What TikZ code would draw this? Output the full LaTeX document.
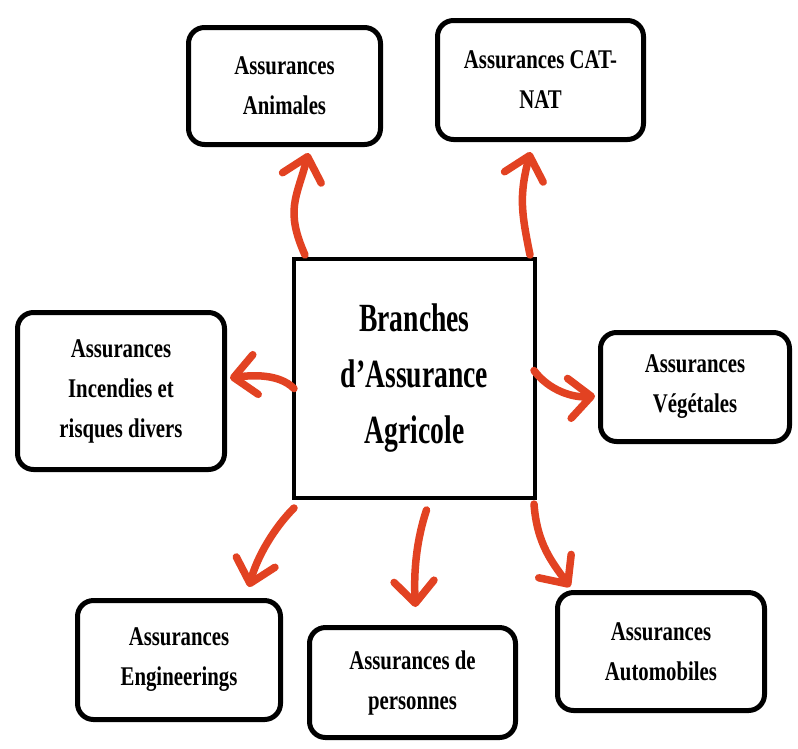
\documentclass[tikz,border=0pt]{standalone}
\usepackage{fontspec}
\setmainfont{Liberation Serif}
\newfontfamily\boxfont[FakeStretch=0.77]{Liberation Serif}
\newfontfamily\centerfont[FakeStretch=0.69]{Liberation Serif}
\usetikzlibrary{arrows.meta,calc}
\definecolor{arrowred}{RGB}{226,66,34}
\begin{document}
\begin{tikzpicture}[x=1pt,y=-1pt,
  box/.style={draw, line width=5pt, rounded corners=16pt, align=center, inner sep=0pt,
    font=\boxfont\bfseries\fontsize{27}{40}\selectfont},
  centerbox/.style={draw, line width=4pt, align=center, inner sep=0pt,
    font=\centerfont\bfseries\fontsize{40}{56}\selectfont},
  arr/.style={draw=arrowred, line width=7.5pt, line cap=round,
    -{Straight Barb[length=22pt,width=40pt,round]}}]
\fill[white] (0,0) rectangle (798,748);
\useasboundingbox (0,0) rectangle (798,748);

\node[centerbox, minimum width=241pt, minimum height=239pt] (c) at (414.5,378.5) {Branches\\d’Assurance\\Agricole};

\node[box, minimum width=192pt, minimum height=117pt] (ani) at (284.5,86) {Assurances\\Animales};
\node[box, minimum width=206pt, minimum height=119pt] (cat) at (540.5,80) {Assurances CAT-\\NAT};
\node[box, minimum width=189pt, minimum height=109pt] (veg) at (695,387) {Assurances\\Végétales};
\node[box, minimum width=207pt, minimum height=157pt] (inc) at (121,391) {Assurances\\Incendies et\\risques divers};
\node[box, minimum width=203pt, minimum height=119pt] (eng) at (179,660) {Assurances\\Engineerings};
\node[box, minimum width=206pt, minimum height=110pt] (per) at (412.5,682.5) {Assurances de\\personnes};
\node[box, minimum width=207pt, minimum height=118pt] (aut) at (661,651.5) {Assurances\\Automobiles};

\draw[arr] ($(c.north west)+(13,-2)$) .. controls +(-20,-45) and +(-12,45) .. ($(ani.south)+(24,6)$);
\draw[arr] ($(c.north east)+(-7,-2)$) .. controls +(-8,-40) and +(-12,45) .. ($(cat.south)+(-10,10)$);
\draw[arr] ($(c.east)+(-3,-8)$) .. controls +(15,20) and +(-22,2) .. ($(veg.west)+(-3,9)$);
\draw[arr] ($(c.west)+(2,10)$) .. controls +(-15,-15) and +(22,-3) .. ($(inc.east)+(3,-13)$);
\draw[arr] ($(c.south west)+(2,8)$) .. controls +(-20,20) and +(8,-30) .. ($(eng.north)+(70,-11)$);
\draw[arr] ($(c.south)+(12,10)$) .. controls +(-10,30) and +(-2,-35) .. ($(per.north)+(3,-18)$);
\draw[arr] ($(c.south east)+(-3,4)$) .. controls +(3,40) and +(-18,-25) .. ($(aut.north west)+(15,-3)$);
\end{tikzpicture}
\end{document}
